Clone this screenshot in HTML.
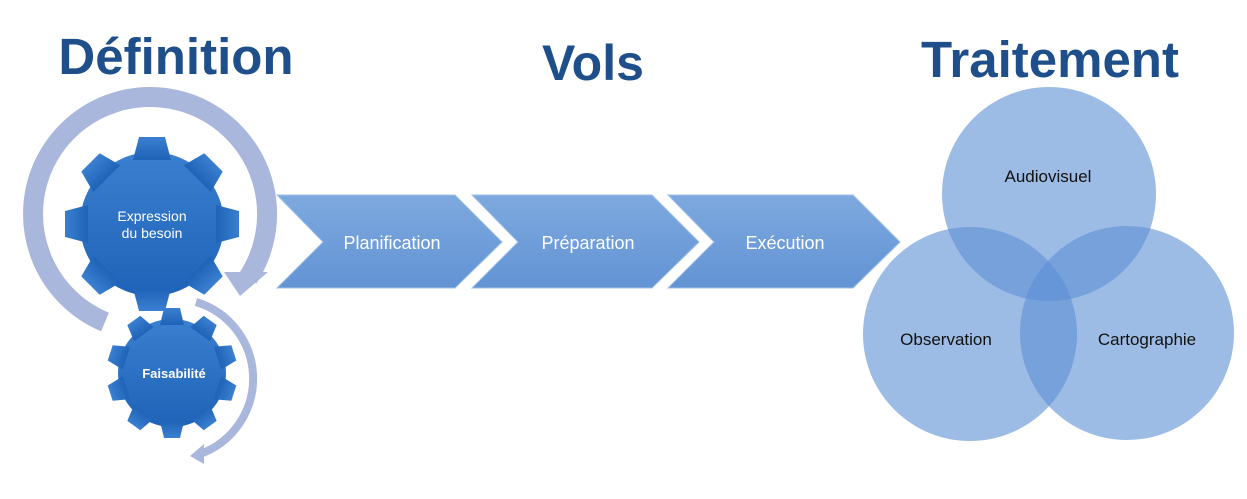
<!DOCTYPE html>
<html><head><meta charset="utf-8"><style>
html,body{margin:0;padding:0;background:#fff;}
svg{display:block;}
text{font-family:"Liberation Sans",Arial,sans-serif;}
</style></head><body>
<svg width="1247" height="499" viewBox="0 0 1247 499" xmlns="http://www.w3.org/2000/svg">
<defs>
<linearGradient id="gear" x1="0" y1="0" x2="0" y2="1">
<stop offset="0" stop-color="#3b7fd0"/><stop offset="1" stop-color="#1f63b8"/></linearGradient>
<linearGradient id="chev" x1="0" y1="0" x2="0" y2="1">
<stop offset="0" stop-color="#7ea9df"/><stop offset="1" stop-color="#6293d4"/></linearGradient>
<polygon id="tb" points="-19,-64 -13,-87 13,-87 19,-64"/>
<polygon id="ts" points="-12,-48 -8,-65 8,-65 12,-48"/>
</defs>

<text x="176" y="74" text-anchor="middle" font-size="51" font-weight="bold" fill="#1f4f8a">Définition</text>
<text x="593" y="80" text-anchor="middle" font-size="50" font-weight="bold" fill="#1f4f8a">Vols</text>
<text x="1050" y="77" text-anchor="middle" font-size="51" font-weight="bold" fill="#1f4f8a">Traitement</text>

<!-- big arc -->
<path d="M105,322 A117,117 0 1 1 248,278" fill="none" stroke="#a9b7dc" stroke-width="20"/>
<polygon points="224,272 268,272 240,296" fill="#a9b7dc"/>
<!-- small arc -->
<path d="M196,302 A80,80 0 0 1 200,454" fill="none" stroke="#a9b7dc" stroke-width="8"/>
<polygon points="204,444 204,464 190,456" fill="#a9b7dc"/>

<!-- big gear -->
<g transform="translate(152,224)" fill="url(#gear)">
<circle r="72"/>
<use href="#tb"/><use href="#tb" transform="rotate(45)"/><use href="#tb" transform="rotate(90)"/><use href="#tb" transform="rotate(135)"/>
<use href="#tb" transform="rotate(180)"/><use href="#tb" transform="rotate(225)"/><use href="#tb" transform="rotate(270)"/><use href="#tb" transform="rotate(315)"/>
</g>
<text x="152" y="221" text-anchor="middle" font-size="14" fill="#fff">Expression</text>
<text x="152" y="238" text-anchor="middle" font-size="14" fill="#fff">du besoin</text>

<!-- small gear -->
<g transform="translate(172,373)" fill="url(#gear)">
<circle r="54"/>
<use href="#ts"/><use href="#ts" transform="rotate(36)"/><use href="#ts" transform="rotate(72)"/><use href="#ts" transform="rotate(108)"/><use href="#ts" transform="rotate(144)"/>
<use href="#ts" transform="rotate(180)"/><use href="#ts" transform="rotate(216)"/><use href="#ts" transform="rotate(252)"/><use href="#ts" transform="rotate(288)"/><use href="#ts" transform="rotate(324)"/>
</g>
<text x="174" y="378" text-anchor="middle" font-size="13" font-weight="bold" fill="#fff">Faisabilité</text>

<!-- chevrons -->
<g fill="url(#chev)" stroke="#9fbfe8" stroke-width="1">
<polygon points="277,195 455,195 502,242 455,288 277,288 323,242"/>
<polygon points="472,195 652,195 699,242 652,288 472,288 518,242"/>
<polygon points="668,195 853,195 900,242 853,288 668,288 714,242"/>
</g>
<text x="392" y="249" text-anchor="middle" font-size="18" fill="#fff">Planification</text>
<text x="588" y="249" text-anchor="middle" font-size="18" fill="#fff">Préparation</text>
<text x="785" y="249" text-anchor="middle" font-size="18" fill="#fff">Exécution</text>

<!-- venn -->
<g fill="#5b8fd4" fill-opacity="0.6">
<circle cx="1049" cy="194" r="107"/>
<circle cx="970" cy="334" r="107"/>
<circle cx="1127" cy="333" r="107"/>
</g>
<text x="1048" y="182" text-anchor="middle" font-size="17" fill="#111">Audiovisuel</text>
<text x="946" y="345" text-anchor="middle" font-size="17" fill="#111">Observation</text>
<text x="1147" y="345" text-anchor="middle" font-size="17" fill="#111">Cartographie</text>
</svg>
</body></html>
